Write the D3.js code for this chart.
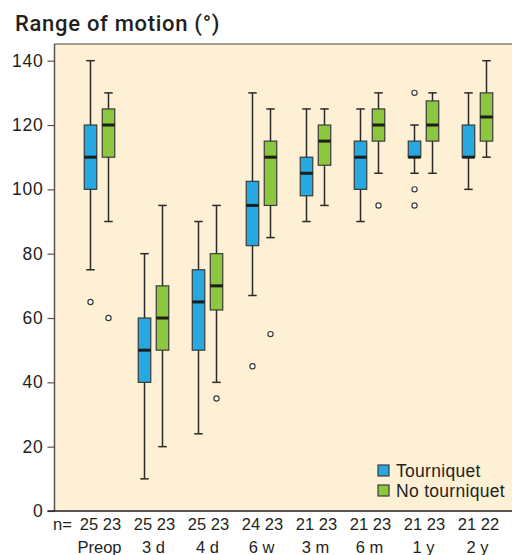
<!DOCTYPE html>
<html>
<head>
<meta charset="utf-8">
<script src="https://cdn.jsdelivr.net/npm/d3@7"></script>
<style>
  body { margin: 0; background: #fff; }
  svg text { font-family: 'Liberation Sans', Arial, sans-serif; fill: #231f20; }
</style>
</head>
<body>
<svg id="chart" width="512" height="555"></svg>
<script>
const groups = ['Preop', '3 d', '4 d', '6 w', '3 m', '6 m', '1 y', '2 y'];
const series = ['Tourniquet', 'No tourniquet'];
const yTicks = [0, 20, 40, 60, 80, 100, 120, 140];

// [whisker low, q1, median, q3, whisker high]
const tourniquetStats = [
  [75, 100, 110, 120, 140],
  [10, 40, 50, 60, 80],
  [24, 50, 65, 75, 90],
  [67, 82.5, 95, 102.5, 130],
  [90, 98, 105, 110, 125],
  [90, 100, 110, 115, 125],
  [105, 110, 110, 115, 120],
  [100, 110, 110, 120, 130]
];
const tourniquetOutliers = [[65], [], [], [45], [], [], [130, 100, 95], []];
const tourniquetN = [25, 25, 25, 24, 21, 21, 21, 21];

const noTourniquetStats = [
  [90, 110, 120, 125, 130],
  [20, 50, 60, 70, 95],
  [40, 62.5, 70, 80, 95],
  [85, 95, 110, 115, 125],
  [95, 107.5, 115, 120, 125],
  [105, 115, 120, 125, 130],
  [105, 115, 120, 127.5, 130],
  [110, 115, 122.5, 130, 140]
];
const noTourniquetOutliers = [[60], [], [35], [55], [], [95], [], []];
const noTourniquetN = [23, 23, 23, 23, 23, 23, 23, 22];

const colors = { 'Tourniquet': '#25a9e0', 'No tourniquet': '#8dc63f' };

const svg = d3.select('#chart');
const plotLeft = 54.5, plotTop = 44, plotRight = 512, plotBottom = 511;

const x = d3.scaleBand().domain(groups).range([72.5, 504.5]).padding(0);
const xSeries = d3.scalePoint().domain(series).range([-9, 9]);
const y = d3.scaleLinear().domain([0, 140]).range([plotBottom, 60.7]);

const boxW = 12.5, capW = 8.5;

// background
svg.append('rect')
  .attr('x', plotLeft).attr('y', plotTop)
  .attr('width', plotRight - plotLeft).attr('height', plotBottom - plotTop)
  .attr('fill', '#fef0d5');
svg.append('line')
  .attr('x1', plotLeft).attr('x2', plotRight)
  .attr('y1', plotTop).attr('y2', plotTop)
  .attr('stroke', '#857c73').attr('stroke-width', 1.5);

// title
svg.append('text')
  .attr('x', 15).attr('y', 31)
  .style('font-family', 'Roboto, "Liberation Sans", sans-serif')
  .style('font-size', '22px')
  .style('font-weight', 500)
  .style('letter-spacing', '0.7px')
  .text('Range of motion (°)');

// y axis
const yAxis = svg.append('g')
  .attr('transform', 'translate(' + plotLeft + ',0)')
  .call(d3.axisLeft(y).tickValues(yTicks).tickSize(7).tickPadding(4));
yAxis.select('.domain').attr('stroke', '#5a5552').attr('stroke-width', 1.5)
  .attr('d', 'M0,' + plotTop + 'V' + plotBottom);
yAxis.selectAll('.tick line').attr('stroke', '#5a5552').attr('stroke-width', 1.2);
yAxis.selectAll('.tick text')
  .style('font-size', '17.5px')
  .style('letter-spacing', '0.8px')
  .attr('fill', '#231f20');

// bottom axis line
svg.append('line')
  .attr('x1', plotLeft - 7).attr('x2', plotRight)
  .attr('y1', plotBottom).attr('y2', plotBottom)
  .attr('stroke', '#231f20').attr('stroke-width', 1.5);

const rows = [];
groups.forEach((g, i) => {
  rows.push({ group: g, series: series[0], s: tourniquetStats[i], out: tourniquetOutliers[i] });
  rows.push({ group: g, series: series[1], s: noTourniquetStats[i], out: noTourniquetOutliers[i] });
});

const cx = d => x(d.group) + x.bandwidth() / 2 + xSeries(d.series);

const box = svg.append('g').selectAll('g')
  .data(rows)
  .enter()
  .append('g');

// whisker line
box.append('line')
  .attr('x1', cx).attr('x2', cx)
  .attr('y1', d => y(d.s[0])).attr('y2', d => y(d.s[4]))
  .attr('stroke', '#2b2a29').attr('stroke-width', 1.5);
// caps
box.append('line')
  .attr('x1', d => cx(d) - capW / 2).attr('x2', d => cx(d) + capW / 2)
  .attr('y1', d => y(d.s[0])).attr('y2', d => y(d.s[0]))
  .attr('stroke', '#2b2a29').attr('stroke-width', 1.5);
box.append('line')
  .attr('x1', d => cx(d) - capW / 2).attr('x2', d => cx(d) + capW / 2)
  .attr('y1', d => y(d.s[4])).attr('y2', d => y(d.s[4]))
  .attr('stroke', '#2b2a29').attr('stroke-width', 1.5);
// box
box.append('rect')
  .attr('x', d => cx(d) - boxW / 2)
  .attr('y', d => y(d.s[3]))
  .attr('width', boxW)
  .attr('height', d => y(d.s[1]) - y(d.s[3]))
  .attr('fill', d => colors[d.series])
  .attr('stroke', '#3b3b3a').attr('stroke-width', 1.2);
// median
box.append('line')
  .attr('x1', d => cx(d) - boxW / 2).attr('x2', d => cx(d) + boxW / 2)
  .attr('y1', d => y(d.s[2])).attr('y2', d => y(d.s[2]))
  .attr('stroke', '#1d1d1b').attr('stroke-width', 3);
// outliers
box.selectAll('circle')
  .data(d => d.out.map(v => ({ v: v, d: d })))
  .enter()
  .append('circle')
  .attr('cx', o => cx(o.d))
  .attr('cy', o => y(o.v))
  .attr('r', 2.6)
  .attr('fill', '#fff')
  .attr('stroke', '#3b3b3a').attr('stroke-width', 1.2);

// n labels
svg.append('text')
  .attr('x', 53).attr('y', 530)
  .style('font-size', '16.5px')
  .text('n=');
svg.append('g').selectAll('text')
  .data(groups)
  .enter()
  .append('text')
  .attr('x', d => x(d) + x.bandwidth() / 2 + 1)
  .attr('y', 530)
  .attr('text-anchor', 'middle')
  .style('font-size', '16.5px')
  .text((d, i) => tourniquetN[i] + ' ' + noTourniquetN[i]);
svg.append('g').selectAll('text')
  .data(groups)
  .enter()
  .append('text')
  .attr('x', d => x(d) + x.bandwidth() / 2)
  .attr('y', 553)
  .attr('text-anchor', 'middle')
  .style('font-size', '16.5px')
  .text(d => d);

// legend
const legend = svg.append('g').selectAll('g')
  .data(series)
  .enter()
  .append('g')
  .attr('transform', (d, i) => 'translate(378,' + (465 + i * 20) + ')');
legend.append('rect')
  .attr('width', 11).attr('height', 11)
  .attr('fill', d => colors[d])
  .attr('stroke', '#3b3b3a').attr('stroke-width', 1.2);
legend.append('text')
  .attr('x', 18).attr('y', 11.5)
  .style('font-size', '17.5px')
  .style('letter-spacing', '0.3px')
  .text(d => d);
</script>
</body>
</html>
